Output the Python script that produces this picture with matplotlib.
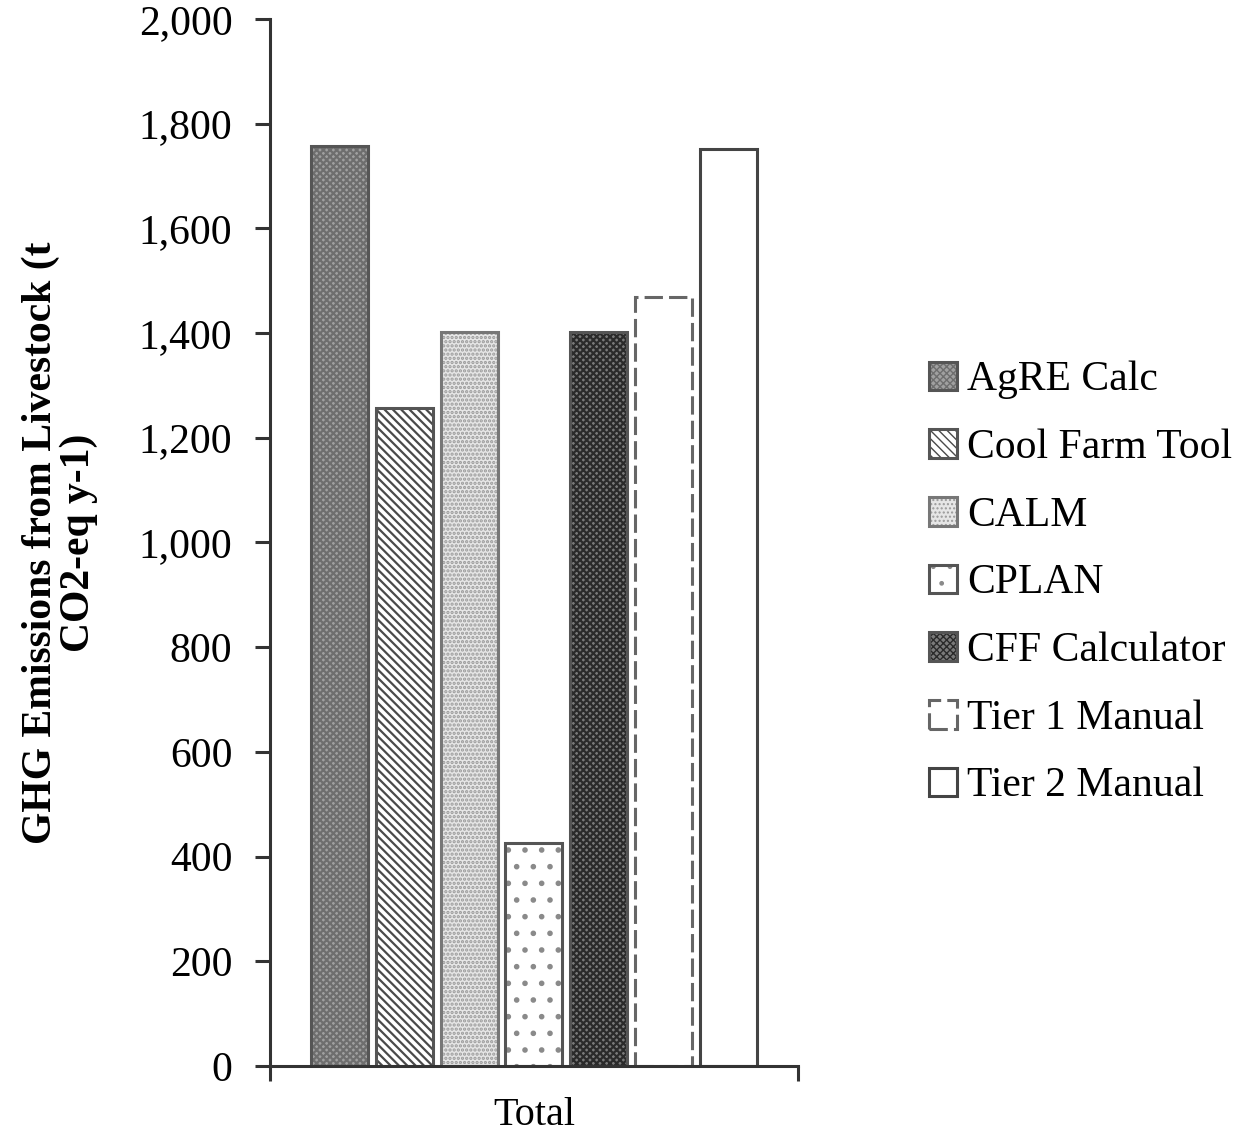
import matplotlib.pyplot as plt
from matplotlib.ticker import FuncFormatter
import numpy as np

plt.rcParams['font.family'] = ['Liberation Serif', 'DejaVu Serif']

tools = ["AgRE Calc", "Cool Farm Tool", "CALM", "CPLAN", "CFF Calculator",
         "Tier 1 Manual", "Tier 2 Manual"]
emissions = [1757, 1257, 1402, 426, 1402, 1469, 1752]
group = "Total"

# fill, hatch, hatch colour, edge style per tool
fills = ['#a0a0a0', '#ffffff', '#e6e6e6', '#ffffff', '#7a7a7a', '#ffffff', '#ffffff']
hatches = ['xxxxx', '\\\\\\\\', '....', '.', 'xxxxx', None, None]
hcolors = ['#6e6e6e', '#4a4a4a', '#9a9a9a', '#8a8a8a', '#2a2a2a', 'none', 'none']
edges = ['#555555', '#555555', '#777777', '#555555', '#555555', '#666666', '#444444']
styles = ['-', '-', '-', '-', '-', (0, (6, 2)), '-']

fig = plt.figure(figsize=(12.35, 11.38), dpi=100)
ax = fig.add_axes([0.2186, 0.0633, 0.4275, 0.92])

x = np.arange(len(tools)) - 3
w = 0.88
handles = []
for i in range(len(tools)):
    with plt.rc_context({'hatch.linewidth': 1.6}):
        ax.bar(x[i], emissions[i], w, color=fills[i], hatch=hatches[i],
               edgecolor=hcolors[i], linewidth=0)
        fill_h = plt.Rectangle((0, 0), 1, 1, facecolor=fills[i], hatch=hatches[i],
                               edgecolor=hcolors[i], linewidth=0)
    ax.bar(x[i], emissions[i], w, color='none', edgecolor=edges[i],
           linewidth=2.2, linestyle=styles[i])
    edge_h = plt.Rectangle((0, 0), 1, 1, facecolor='none', edgecolor=edges[i],
                           linewidth=2.2, linestyle=styles[i])
    handles.append((fill_h, edge_h))

ax.set_xlim(-4.07, 4.07)
ax.set_ylim(0, 2000)
ax.set_yticks(range(0, 2001, 200))
ax.yaxis.set_major_formatter(FuncFormatter(lambda v, p: f"{int(v):,}"))
ax.set_xticks([0])
ax.set_xticklabels([group])
ax.set_xticks([-4.07, 4.07], minor=True)
ax.tick_params(axis='x', which='major', length=0, pad=22, labelsize=29)
ax.tick_params(axis='x', which='minor', length=11, width=2.2, color='#333333',
               direction='out')
ax.tick_params(axis='y', length=11, width=2.2, color='#333333', pad=16,
               labelsize=30)
for s in ['top', 'right']:
    ax.spines[s].set_visible(False)
for s in ['left', 'bottom']:
    ax.spines[s].set_linewidth(2.2)
    ax.spines[s].set_color('#333333')

ax.set_ylabel("GHG Emissions from Livestock (t\nCO2-eq y-1)", fontsize=30,
              fontweight='bold', linespacing=1.0, labelpad=29)

fig.legend(handles, tools, loc='center left',
           bbox_to_anchor=(0.752, 0.4875), frameon=False, fontsize=30,
           handlelength=0.68, handleheight=0.68, handletextpad=0.25,
           labelspacing=0.70, borderpad=0, borderaxespad=0)

fig.savefig('out.png', dpi=100)
